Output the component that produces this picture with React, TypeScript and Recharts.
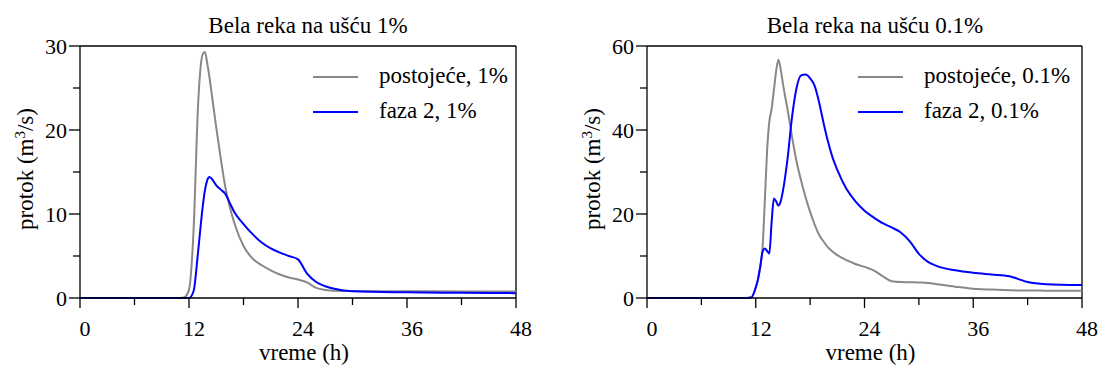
import React from "react"
import { LineChart, Line, XAxis, YAxis, ReferenceLine, Legend } from "recharts"

const FONT = "Liberation Serif, DejaVu Serif, serif"

const leftHours = [0, 11, 11.5, 12, 12.5, 13, 13.5, 13.75, 14, 14.25, 14.5, 15, 15.5, 16, 16.5, 17, 18, 19, 20, 21, 22, 23, 24, 25, 26, 27, 28, 30, 36, 42, 48]
const leftExisting = [0, 0, 0.1, 1.0, 8, 23, 29, 29.3, 28, 26.3, 24.3, 20.3, 16.6, 13.2, 10.8, 8.9, 6.2, 4.7, 3.9, 3.3, 2.8, 2.45, 2.2, 1.85, 1.2, 0.95, 0.85, 0.82, 0.8, 0.78, 0.76]
const leftPhase2 = [0, 0, 0, 0, 0.8, 5.5, 10.8, 12.8, 14.0, 14.4, 14.2, 13.4, 12.9, 12.4, 11.3, 10.2, 8.8, 7.6, 6.6, 5.9, 5.4, 5.0, 4.6, 2.9, 1.9, 1.4, 1.1, 0.8, 0.68, 0.62, 0.58]

const rightHours = [0, 11, 11.5, 12, 12.25, 12.5, 12.75, 13, 13.25, 13.5, 13.75, 14, 14.25, 14.5, 14.75, 15, 15.5, 16, 16.5, 17, 17.5, 18, 18.5, 19, 19.5, 20, 20.5, 21, 22, 23, 24, 25, 26, 27, 28, 29, 30, 31, 32, 34, 36, 38, 40, 41, 42, 44, 48]
const rightExisting = [0, 0, 0.1, 2.5, 4.5, 7.5, 12, 23, 35, 42, 45, 49.5, 54, 56.7, 54.5, 51, 45, 38.5, 32.5, 28, 24, 20.5, 17.5, 15, 13.4, 12, 11.0, 10.2, 9.0, 8.1, 7.4, 6.6, 5.2, 4.0, 3.8, 3.75, 3.7, 3.6, 3.3, 2.7, 2.2, 2.0, 1.85, 1.8, 1.8, 1.75, 1.7]
const rightPhase2 = [0, 0, 0.1, 2.5, 4.5, 7.5, 11, 11.8, 11.2, 10.6, 18, 23.7, 23, 22, 23, 25.5, 33, 43, 50, 53, 53.2, 52.3, 50.5, 46.5, 41.5, 37, 33.3, 30.5, 26, 23, 20.8, 19.2, 17.8, 16.8, 15.6, 13.5, 10.5, 8.6, 7.6, 6.6, 6.0, 5.6, 5.2, 4.5, 3.8, 3.3, 3.1]

const xTicks = [0, 6, 12, 18, 24, 30, 36, 42, 48]
const xLabels = [0, 12, 24, 36, 48]
const leftYTicks = [0, 5, 10, 15, 20, 25, 30]
const leftYLabels = [0, 10, 20, 30]
const rightYTicks = [0, 10, 20, 30, 40, 50, 60]
const rightYLabels = [0, 20, 40, 60]

const GRAY = "#888888"
const BLUE = "#0000ff"

const textStyle: React.CSSProperties = { fontFamily: FONT }

function buildRows(hours: number[], existing: number[], phase2: number[]) {
  return hours.map((t, i) => ({ t, existing: existing[i], phase2: phase2[i] }))
}

function XTick(props: any) {
  const { x, y, payload, labels } = props
  const major = labels.includes(payload.value)
  return (
    <g>
      <line x1={x} y1={y} x2={x} y2={y + (major ? 10 : 7)} stroke="#000" strokeWidth={1.3} />
      {major && (
        <text x={x + 5} y={y + 37.5} textAnchor="middle" fontSize={22} style={textStyle} fill="#000">
          {payload.value}
        </text>
      )}
    </g>
  )
}

function YTick(props: any) {
  const { x, y, payload, labels } = props
  const major = labels.includes(payload.value)
  return (
    <g>
      <line x1={x - (major ? 11 : 7)} y1={y} x2={x} y2={y} stroke="#000" strokeWidth={1.3} />
      {major && (
        <text x={x - 13} y={y + 7.5} textAnchor="end" fontSize={22} style={textStyle} fill="#000">
          {payload.value}
        </text>
      )}
    </g>
  )
}

function SeriesLegend(props: any) {
  const order = props.order as string[]
  const items = [...(props.payload || [])].sort((a: any, b: any) => order.indexOf(a.value) - order.indexOf(b.value))
  return (
    <div style={{ fontFamily: FONT, fontSize: 23, color: "#000" }}>
      {items.map((item: any) => (
        <div key={item.value} style={{ display: "flex", alignItems: "flex-start", height: 35 }}>
          <svg width={45} height={35} style={{ display: "block" }}>
            <line x1={0} x2={45} y1={19} y2={19} stroke={item.color} strokeWidth={2} />
          </svg>
          <span style={{ marginLeft: 21, lineHeight: "35px", whiteSpace: "nowrap", fontFamily: FONT, fontSize: 23 }}>{item.value}</span>
        </div>
      ))}
    </div>
  )
}

interface PanelProps {
  hours: number[]
  existing: number[]
  phase2: number[]
  yMax: number
  yTicks: number[]
  yLabels: number[]
  axisWidth: number
  rightMargin: number
  legendLeft: number
  names: string[]
}

function Panel({ hours, existing, phase2, yMax, yTicks, yLabels, axisWidth, rightMargin, legendLeft, names }: PanelProps) {
  const rows = buildRows(hours, existing, phase2)
  return (
    <LineChart width={550} height={367} data={rows} margin={{ top: 46, right: rightMargin, bottom: 0, left: 0 }} style={{ fontFamily: FONT }}>
      <XAxis
        dataKey="t"
        type="number"
        domain={[0, 48]}
        ticks={xTicks}
        interval={0}
        height={69}
        tickSize={0}
        tickMargin={0}
        tickLine={false}
        axisLine={{ stroke: "#000", strokeWidth: 1.3 }}
        tick={(p: any) => <XTick {...p} labels={xLabels} />}
        label={(p: any) => {
          const vb = p.viewBox
          return (
            <text x={vb.x + vb.width / 2 + 6} y={vb.y + 62} textAnchor="middle" fontSize={23} style={textStyle} fill="#000">
              vreme (h)
            </text>
          )
        }}
      />
      <YAxis
        type="number"
        domain={[0, yMax]}
        ticks={yTicks}
        interval={0}
        width={axisWidth}
        tickSize={0}
        tickMargin={0}
        tickLine={false}
        axisLine={{ stroke: "#000", strokeWidth: 1.3 }}
        tick={(p: any) => <YTick {...p} labels={yLabels} />}
        label={(p: any) => {
          const vb = p.viewBox
          const x = vb.x + vb.width - 47
          const y = vb.y + vb.height / 2 - 3
          return (
            <text x={x} y={y} transform={`rotate(-90, ${x}, ${y})`} textAnchor="middle" fontSize={23} style={textStyle} fill="#000">
              protok (m<tspan dy={-8} fontSize={15}>3</tspan>
              <tspan dy={8}>/s)</tspan>
            </text>
          )
        }}
      />
      <ReferenceLine y={yMax} stroke="#000" strokeWidth={1.3} />
      <ReferenceLine x={48} stroke="#000" strokeWidth={1.3} />
      <Legend
        layout="vertical"
        align="center"
        verticalAlign="middle"
        wrapperStyle={{ left: legendLeft, top: 58, width: "auto" }}
        content={(p: any) => <SeriesLegend {...p} order={names} />}
      />
      <Line type="monotone" dataKey="existing" name={names[0]} stroke={GRAY} strokeWidth={2} dot={false} isAnimationActive={false} />
      <Line type="monotone" dataKey="phase2" name={names[1]} stroke={BLUE} strokeWidth={2} dot={false} isAnimationActive={false} />
    </LineChart>
  )
}

const titleStyle: React.CSSProperties = {
  position: "absolute",
  top: 14,
  width: 400,
  textAlign: "center",
  fontFamily: FONT,
  fontSize: 23,
  lineHeight: "23px",
  color: "#000",
  whiteSpace: "nowrap",
}

export default function App() {
  return (
    <div style={{ position: "absolute", left: 0, top: 0, width: 1100, height: 367, background: "#fff", overflow: "hidden", fontFamily: FONT }}>
      <div style={{ position: "absolute", left: 0, top: 0 }}>
        <Panel
          hours={leftHours}
          existing={leftExisting}
          phase2={leftPhase2}
          yMax={30}
          yTicks={leftYTicks}
          yLabels={leftYLabels}
          axisWidth={80}
          rightMargin={34}
          legendLeft={313}
          names={["postojeće, 1%", "faza 2, 1%"]}
        />
      </div>
      <div style={{ position: "absolute", left: 550, top: 0 }}>
        <Panel
          hours={rightHours}
          existing={rightExisting}
          phase2={rightPhase2}
          yMax={60}
          yTicks={rightYTicks}
          yLabels={rightYLabels}
          axisWidth={97}
          rightMargin={18}
          legendLeft={308}
          names={["postojeće, 0.1%", "faza 2, 0.1%"]}
        />
      </div>
      <div style={{ ...titleStyle, left: 308 - 200 }}>Bela reka na ušću 1%</div>
      <div style={{ ...titleStyle, left: 875 - 200 }}>Bela reka na ušću 0.1%</div>
    </div>
  )
}
